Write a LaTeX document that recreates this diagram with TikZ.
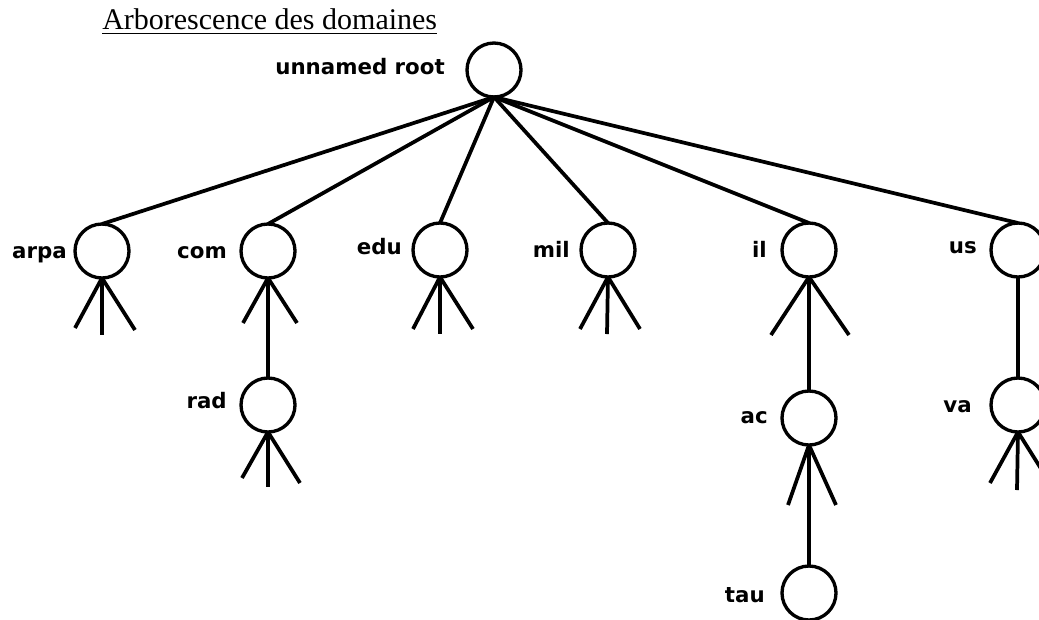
\documentclass[tikz,border=0pt]{standalone}
\usepackage{fontspec}
\setmainfont{Liberation Serif}
\newfontfamily\lblfont{DejaVu Sans}
\newcommand\legto[4]{%
  \coordinate (#1-#2) at ([shift={(#3,#4)}]#1.south);
  \draw[edge] (#1.south) -- (#1-#2);}
\begin{document}
\begin{tikzpicture}[x=0.75pt,y=-0.75pt,
  dom/.style={circle,draw,line width=2.5pt,minimum size=40.5pt,inner sep=0pt,outer sep=0pt},
  edge/.style={line width=2.8pt},
  lbl/.style={font=\lblfont\bfseries\fontsize{16pt}{18pt}\selectfont,inner sep=0pt,anchor=base east},
  ttl/.style={font=\fontsize{22.5pt}{27pt}\selectfont,inner sep=0pt,anchor=base west}]
\useasboundingbox (0,0) rectangle (1039,619);
\clip (0,0) rectangle (1039,619);
% title
\node[ttl] (title) at (102,29) {Arborescence des domaines};
\draw[line width=1.1pt] ([yshift=-3.2pt]title.base west) -- ([yshift=-3.2pt]title.base east);
% circles
\node[dom] (root) at (494,70) {};
\node[dom] (arpa) at (102,251) {};
\node[dom] (com) at (268,251) {};
\node[dom] (edu) at (440,250) {};
\node[dom] (mil) at (608,250) {};
\node[dom] (il) at (809,250) {};
\node[dom] (us) at (1018,250) {};
\node[dom] (rad) at (268,405) {};
\node[dom] (ac) at (809,418) {};
\node[dom] (tau) at (809,593) {};
\node[dom] (va) at (1018,405) {};
% labels
\node[lbl] (root-t) at (445,74) {unnamed root};
\node[lbl] (arpa-t) at (67,258) {arpa};
\node[lbl] (com-t) at (227,258) {com};
\node[lbl] (edu-t) at (402,254) {edu};
\node[lbl] (mil-t) at (570,257) {mil};
\node[lbl] (il-t) at (767,257) {il};
\node[lbl] (us-t) at (977,253) {us};
\node[lbl] (rad-t) at (227,408) {rad};
\node[lbl] (ac-t) at (768,423) {ac};
\node[lbl] (tau-t) at (765,602) {tau};
\node[lbl] (va-t) at (972,412) {va};
% edges from root
\foreach \c in {arpa,com,edu,mil,il,us}
  \draw[edge] (root.south) -- (\c.north);
% vertical links
\draw[edge] (com.south) -- (rad.north);
\draw[edge] (il.south) -- (ac.north);
\draw[edge] (ac.south) -- (tau.north);
\draw[edge] (us.south) -- (va.north);
% legs
\legto{arpa}{l}{-27}{50}\legto{arpa}{m}{0}{57}\legto{arpa}{r}{33}{52}
\legto{com}{l}{-25}{45}\legto{com}{r}{29}{45}
\legto{edu}{l}{-27}{52}\legto{edu}{m}{0}{57}\legto{edu}{r}{33}{52}
\legto{mil}{l}{-28}{52}\legto{mil}{m}{-1}{57}\legto{mil}{r}{32}{52}
\legto{rad}{l}{-26}{46}\legto{rad}{m}{0}{55}\legto{rad}{r}{32}{51}
\legto{il}{l}{-38}{58}\legto{il}{r}{40}{58}
\legto{ac}{l}{-21}{60}\legto{ac}{r}{27}{60}
\legto{va}{l}{-28}{51}\legto{va}{m}{-1}{58}\legto{va}{r}{32}{51}
\end{tikzpicture}
\end{document}
